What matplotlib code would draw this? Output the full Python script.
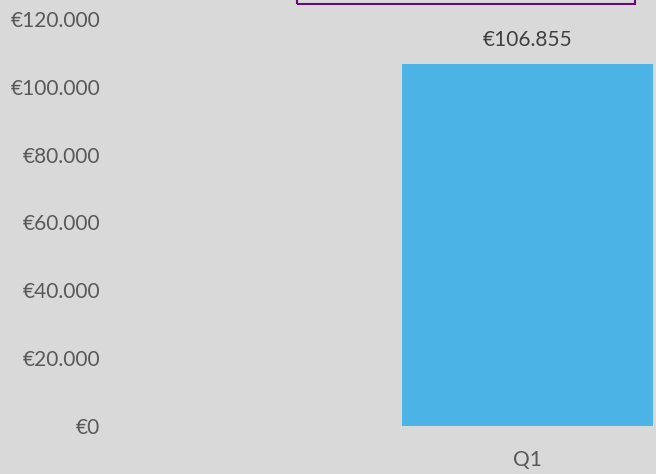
import matplotlib.pyplot as plt
from matplotlib.patches import Rectangle
from matplotlib.ticker import FuncFormatter

#----- Data -----
categories = [ "Q1" ]
values = [ 106855 ]
y_ticks = [ 0, 20000, 40000, 60000, 80000, 100000, 120000 ]

bg_colour = "#d9d9d9"
bar_colour = "#4bb3e6"
text_colour = "#595959"


def euro( v, pos=None ):
	if v == 0:
		return "€0"
	return "€" + "{:,.0f}".format( v ).replace( ",", "." )


#----- Plot -----
plt.rcParams.update({ "font.family": ["Lato", "DejaVu Sans"], "font.size": 15 })

fig = plt.figure( figsize=(6.56,4.74), dpi=100, facecolor=bg_colour )
ax = fig.add_axes( [110/656, 1-426/474, 546/656, 407/474] )
ax.set_facecolor( bg_colour )

ax.bar( range(len( categories )), values, width=1.0, color=bar_colour, zorder=2 )

for i, v in enumerate( values ):
	ax.annotate( euro( v ), (i, v), xytext=(0, 14), textcoords="offset pixels",
		ha="center", va="bottom", color="#404040", fontsize=15 )

ax.set_xlim( -1.663, 0.512 )
ax.set_ylim( 0, 120000 )
ax.set_yticks( y_ticks )
ax.yaxis.set_major_formatter( FuncFormatter( euro ) )
ax.set_xticks( range(len( categories )) )
ax.set_xticklabels( categories )
for lbl in ax.get_yticklabels():
	lbl.set_va( "center_baseline" )

ax.tick_params( axis="y", length=0, pad=7, colors=text_colour )
ax.tick_params( axis="x", length=0, pad=17, colors=text_colour )
for s in ax.spines.values():
	s.set_visible( False )

#--- Title box, cut off at the top ---
fig.patches.append( Rectangle( (297/656, 1-4/474), 338/656, 0.2, transform=fig.transFigure,
	fill=False, edgecolor="#660a7a", linewidth=1.5, clip_on=False ) )

plt.savefig( "out.png", dpi=100, facecolor=bg_colour )
plt.close()
